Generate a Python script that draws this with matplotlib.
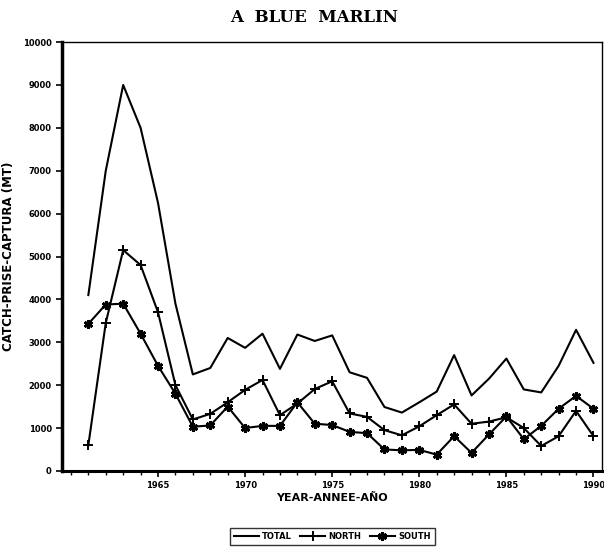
import matplotlib.pyplot as plt
import numpy as np

# Atlantic blue marlin catches, 1961-1990 (MT)
years = np.arange(1961, 1991)
total = [4100, 7000, 9000, 8000, 6250, 3900, 2250, 2400, 3100, 2870,
         3200, 2380, 3180, 3030, 3160, 2300, 2170, 1490, 1360, 1600,
         1850, 2700, 1760, 2150, 2620, 1900, 1830, 2450, 3290, 2520]
north = [600, 3450, 5150, 4800, 3700, 2000, 1200, 1330, 1600, 1890,
         2120, 1300, 1570, 1910, 2090, 1340, 1260, 950, 830, 1040,
         1300, 1550, 1100, 1150, 1250, 1000, 580, 810, 1400, 810]
south = [3430, 3880, 3900, 3200, 2450, 1800, 1030, 1060, 1500, 1000,
         1050, 1050, 1600, 1100, 1070, 910, 880, 500, 480, 490,
         380, 810, 420, 850, 1270, 740, 1050, 1450, 1750, 1450]

fig = plt.figure(figsize=(6.04, 5.54), dpi=100)
ax = fig.add_axes([0.103, 0.150, 0.894, 0.774])

ax.plot(years, total, color='black', lw=1.5, label='TOTAL')
ax.plot(years, north, color='black', lw=1.5, marker='+', ms=7, mew=1.4,
        label='NORTH')
ax.plot(years, south, color='black', lw=1.5, marker=(6, 2, 0), ms=6.5, mew=2.0,
        label='SOUTH')

ax.set_xlim(1959.5, 1990.5)
ax.set_ylim(0, 10000)
ax.set_yticks(np.arange(0, 10001, 1000))
ax.set_xticks(np.arange(1965, 1991, 5))
ax.set_xticks(np.arange(1960, 1991, 1), minor=True)
ax.tick_params(axis='both', which='major', labelsize=6, width=1.2, length=4,
               direction='out')
ax.tick_params(axis='x', which='minor', width=1.0, length=3, direction='out')
for lab in ax.get_xticklabels() + ax.get_yticklabels():
    lab.set_fontweight('bold')

ax.spines['left'].set_linewidth(2.5)
ax.spines['bottom'].set_linewidth(2.2)
ax.spines['top'].set_linewidth(1.0)
ax.spines['right'].set_linewidth(1.0)

ax.set_ylabel('CATCH-PRISE-CAPTURA (MT)', fontsize=8.5, fontweight='bold',
              labelpad=6)
ax.set_xlabel('YEAR-ANNEE-AÑO', fontsize=8, fontweight='bold', labelpad=2)
fig.text(0.52, 0.968, 'A  BLUE  MARLIN', ha='center', va='center',
         fontsize=12, fontweight='bold', family='DejaVu Serif')

fig.legend(loc='center', bbox_to_anchor=(0.55, 0.031), ncol=3,
           frameon=True, fancybox=False, edgecolor='black', handlelength=3.0,
           columnspacing=1.0, handletextpad=0.4, borderpad=0.5,
           prop={'weight': 'bold', 'size': 6})

fig.savefig('out.png', dpi=100, facecolor='white')
